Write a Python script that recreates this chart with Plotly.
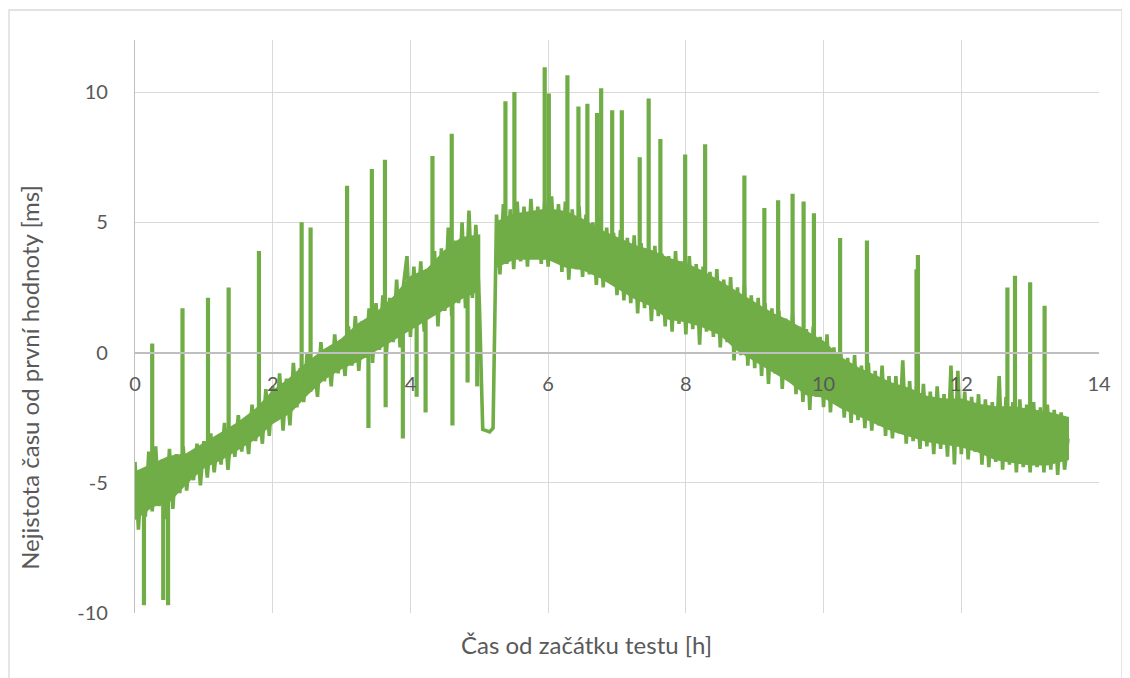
import plotly.graph_objects as go

# time since test start [h]
hours = [
    0.00, 0.05, 0.10, 0.15, 0.20, 0.25, 0.30, 0.35, 0.40, 0.45, 0.50, 0.55, 0.60, 0.65, 0.70, 0.75, 0.80, 0.85, 0.90, 0.95,
    1.00, 1.05, 1.10, 1.15, 1.20, 1.25, 1.30, 1.35, 1.40, 1.45, 1.50, 1.55, 1.60, 1.65, 1.70, 1.75, 1.80, 1.85, 1.90, 1.95,
    2.00, 2.05, 2.10, 2.15, 2.20, 2.25, 2.30, 2.35, 2.40, 2.45, 2.50, 2.55, 2.60, 2.65, 2.70, 2.75, 2.80, 2.85, 2.90, 2.95,
    3.00, 3.05, 3.10, 3.15, 3.20, 3.25, 3.30, 3.35, 3.40, 3.45, 3.50, 3.55, 3.60, 3.65, 3.70, 3.75, 3.80, 3.85, 3.90, 3.95,
    4.00, 4.05, 4.10, 4.15, 4.20, 4.25, 4.30, 4.35, 4.40, 4.45, 4.50, 4.55, 4.60, 4.65, 4.70, 4.75, 4.80, 4.85, 4.90, 4.95,
    5.00, 5.05, 5.10, 5.15, 5.20, 5.25, 5.30, 5.35, 5.40, 5.45, 5.50, 5.55, 5.60, 5.65, 5.70, 5.75, 5.80, 5.85, 5.90, 5.95,
    6.00, 6.05, 6.10, 6.15, 6.20, 6.25, 6.30, 6.35, 6.40, 6.45, 6.50, 6.55, 6.60, 6.65, 6.70, 6.75, 6.80, 6.85, 6.90, 6.95,
    7.00, 7.05, 7.10, 7.15, 7.20, 7.25, 7.30, 7.35, 7.40, 7.45, 7.50, 7.55, 7.60, 7.65, 7.70, 7.75, 7.80, 7.85, 7.90, 7.95,
    8.00, 8.05, 8.10, 8.15, 8.20, 8.25, 8.30, 8.35, 8.40, 8.45, 8.50, 8.55, 8.60, 8.65, 8.70, 8.75, 8.80, 8.85, 8.90, 8.95,
    9.00, 9.05, 9.10, 9.15, 9.20, 9.25, 9.30, 9.35, 9.40, 9.45, 9.50, 9.55, 9.60, 9.65, 9.70, 9.75, 9.80, 9.85, 9.90, 9.95,
    10.00, 10.05, 10.10, 10.15, 10.20, 10.25, 10.30, 10.35, 10.40, 10.45, 10.50, 10.55, 10.60, 10.65, 10.70, 10.75, 10.80, 10.85, 10.90, 10.95,
    11.00, 11.05, 11.10, 11.15, 11.20, 11.25, 11.30, 11.35, 11.40, 11.45, 11.50, 11.55, 11.60, 11.65, 11.70, 11.75, 11.80, 11.85, 11.90, 11.95,
    12.00, 12.05, 12.10, 12.15, 12.20, 12.25, 12.30, 12.35, 12.40, 12.45, 12.50, 12.55, 12.60, 12.65, 12.70, 12.75, 12.80, 12.85, 12.90, 12.95,
    13.00, 13.05, 13.10, 13.15, 13.20, 13.25, 13.30, 13.35, 13.40, 13.45, 13.50, 13.55,
]

# time uncertainty relative to the first value [ms] (noise trace)
offset_ms = [
    -4.2, -6.8, -4.5, -6.3, -3.8, -6.1, -3.6, -5.9, -4.1, -6.4, -3.7, -6.0, -3.9, -5.4, -3.6, -5.3, -4.0, -4.9, -3.5, -5.1,
    -3.4, -4.8, -3.1, -4.6, -3.3, -4.3, -2.7, -4.5, -2.9, -4.0, -2.4, -3.8, -2.6, -3.9, -2.0, -3.4, -2.2, -3.5, -1.4, -3.2,
    -1.3, -2.6, -0.8, -3.0, -1.0, -2.8, -0.4, -2.1, -0.6, -1.9, 0.0, -1.5, -0.3, -1.7, 0.4, -1.1, 0.1, -1.3, 0.7, -0.8,
    0.5, -0.9, 1.0, -0.5, 1.4, -0.7, 1.2, -0.2, 1.7, -0.4, 1.9, 0.1, 2.2, -0.1, 2.1, 0.4, 2.8, 0.2, 2.6, 3.7,
    0.6, 3.3, 1.2, 3.5, 0.8, 3.2, 1.5, 3.9, 1.0, 4.0, 1.6, 4.8, 1.4, 4.3, 1.9, 5.0, 1.7, 5.45, 2.1, 4.9,
    2.0, -2.95, -3.0, -3.05, -2.9, 5.3, 3.0, 5.7, 3.4, 5.5, 3.2, 5.8, 3.5, 5.6, 3.3, 5.9, 3.7, 5.6, 3.4, 5.8,
    3.3, 6.0, 3.5, 5.7, 3.1, 5.8, 2.8, 5.5, 3.2, 5.6, 2.9, 5.3, 3.0, 5.0, 2.6, 5.2, 2.5, 4.8, 2.7, 4.6,
    2.2, 4.7, 2.0, 4.4, 1.9, 4.5, 1.5, 4.2, 1.7, 4.0, 1.2, 4.1, 1.4, 3.8, 1.0, 3.7, 0.8, 3.9, 1.1, 3.5,
    0.7, 3.7, 0.9, 3.4, 0.3, 3.3, 0.8, 3.1, 0.6, 3.2, 0.2, 2.8, 0.4, 2.9, -0.3, 2.5, -0.1, 2.6, -0.5, 2.2,
    -0.6, 2.1, -0.9, 1.9, -1.2, 1.7, -0.8, 1.6, -1.4, 1.3, -1.1, 1.5, -1.6, 1.0, -1.9, 0.9, -2.2, 1.0, -1.7, 0.6,
    -2.1, 0.7, -2.3, 0.2, -2.0, 0.0, -2.5, -0.2, -2.7, -0.1, -2.6, -0.5, -2.9, -0.4, -3.0, -0.7, -2.8, -0.5, -3.2, -0.9,
    -3.3, -0.9, -3.1, -0.3, -3.5, -1.1, -3.4, -1.3, -3.7, -1.2, -3.6, -1.5, -3.9, -1.3, -3.7, -1.6, -4.0, -0.5, -4.3, -0.7,
    -3.9, -1.5, -4.1, -1.7, -3.8, -1.6, -4.3, -1.8, -4.4, -1.9, -4.2, -0.9, -4.5, -1.7, -4.3, -1.9, -4.6, -1.8, -4.4, -2.0,
    -4.6, -1.9, -4.4, -2.1, -4.6, -2.0, -4.5, -2.2, -4.7, -2.3, -4.5, -3.3,
]

# isolated spikes: time [h], band level the spike leaves from [ms], spike extreme [ms]
spike_hours = [
    0.13, 0.25, 0.41, 0.48, 0.69, 1.06, 1.36, 1.80, 2.42, 2.55, 3.08, 3.39, 3.44, 3.63, 3.64, 3.89,
    4.09, 4.22, 4.32, 4.60, 4.61, 4.83, 4.97, 5.38, 5.51, 5.95, 6.01, 6.28, 6.44, 6.57, 6.71, 6.77,
    6.93, 7.07, 7.33, 7.46, 7.63, 7.99, 8.28, 8.85, 9.14, 9.34, 9.55, 9.71, 9.86, 10.24, 10.63, 11.35,
    11.37, 12.67, 12.78, 13.00, 13.21,
]
spike_base = [
    -5.3, -5.1, -4.9, -4.9, -4.5, -3.9, -3.3, -2.7, -1.2, -0.9, -0.1, 0.4, 0.7, 1.0, 0.9, 1.8,
    2.0, 2.2, 2.3, 2.8, 2.8, 3.2, 3.4, 4.3, 4.4, 4.5, 4.5, 4.3, 4.2, 4.0, 3.8, 3.8,
    3.5, 3.3, 3.0, 2.9, 2.6, 2.3, 2.0, 1.1, 0.6, 0.3, 0.0, -0.4, -0.5, -1.1, -1.6, -2.4,
    -2.4, -3.1, -3.1, -3.2, -3.3,
]
spike_peak = [
    -9.7, 0.35, -9.5, -9.7, 1.7, 2.1, 2.5, 3.9, 5.0, 4.8, 6.4, -2.9, 7.05, 7.4, -2.1, -3.3,
    -1.7, -2.3, 7.55, 8.4, -2.8, -1.15, -1.3, 9.65, 10.0, 10.95, 9.95, 10.65, 9.45, 9.55, 9.2, 10.15,
    9.3, 9.3, 7.5, 9.75, 8.2, 7.6, 8.0, 6.8, 5.55, 5.85, 6.1, 5.8, 5.35, 4.4, 4.3, 3.2,
    3.75, 2.5, 2.95, 2.7, 1.8,
]

# dense core of the noise band, two parts split at the 5.0-5.25 h gap
band_hours = [
    0.00, 0.25, 0.50, 0.75, 1.00, 1.25, 1.50, 1.75, 2.00, 2.25, 2.50, 2.75, 3.00, 3.25, 3.50, 3.75, 4.00, 4.25, 4.50, 4.75, 5.00,
    None,
    5.25, 5.50, 5.75, 6.00, 6.25, 6.50, 6.75, 7.00, 7.25, 7.50, 7.75, 8.00, 8.25, 8.50, 8.75, 9.00, 9.25, 9.50, 9.75,
    10.00, 10.25, 10.50, 10.75, 11.00, 11.25, 11.50, 11.75, 12.00, 12.25, 12.50, 12.75, 13.00, 13.25, 13.55,
]
band_top = [
    -4.6, -4.3, -4.0, -3.9, -3.5, -3.1, -2.7, -2.2, -1.5, -1.0, -0.4, 0.1, 0.5, 1.1, 1.5, 2.1, 2.9, 3.2, 3.9, 4.4, 4.5,
    None,
    5.0, 5.3, 5.4, 5.5, 5.4, 5.1, 4.7, 4.4, 4.1, 3.9, 3.6, 3.4, 3.1, 2.7, 2.3, 1.9, 1.5, 1.2, 0.8,
    0.4, -0.2, -0.6, -0.9, -1.2, -1.4, -1.7, -1.8, -1.8, -2.0, -2.1, -2.1, -2.2, -2.3, -2.5,
]
band_bottom = [
    -6.4, -5.9, -5.7, -5.0, -4.4, -4.1, -3.7, -3.3, -2.7, -2.3, -1.6, -1.0, -0.6, -0.3, 0.1, 0.5, 0.9, 1.3, 1.7, 2.1, 2.4,
    None,
    3.3, 3.6, 3.6, 3.6, 3.3, 3.2, 2.9, 2.5, 2.1, 1.8, 1.3, 1.2, 1.0, 0.7, 0.1, -0.3, -0.7, -1.1, -1.6,
    -1.7, -2.1, -2.4, -2.7, -3.0, -3.2, -3.4, -3.5, -3.6, -3.8, -4.1, -4.2, -4.3, -4.3, -4.1,
]

x_ticks = [0, 2, 4, 6, 8, 10, 12, 14]
y_ticks = [-10, -5, 0, 5, 10]

x_title = "Čas od začátku testu [h]"
y_title = "Nejistota času od první hodnoty [ms]"

FONT = "Lato, Open Sans, sans-serif"
TXT = "#595959"
GRID = "#d9d9d9"
AXIS = "#bfbfbf"
GREEN = "#70ad47"
LW = 3.6

fig = go.Figure()

# band core polygons
seg_x, seg_t, seg_b = [], [], []
poly_x, poly_y = [], []
for h, t, b in list(zip(band_hours, band_top, band_bottom)) + [(None, None, None)]:
    if h is None:
        if seg_x:
            poly_x += seg_x + seg_x[::-1] + [None]
            poly_y += seg_t + seg_b[::-1] + [None]
        seg_x, seg_t, seg_b = [], [], []
    else:
        seg_x.append(h)
        seg_t.append(t)
        seg_b.append(b)

fig.add_trace(go.Scatter(
    x=poly_x, y=poly_y, mode="lines", fill="toself", fillcolor=GREEN,
    line=dict(color=GREEN, width=2), connectgaps=False,
    hoverinfo="skip", showlegend=False,
))
fig.add_trace(go.Scatter(
    x=hours, y=offset_ms, mode="lines",
    line=dict(color=GREEN, width=LW),
    hoverinfo="skip", showlegend=False,
))
sx, sy = [], []
for h, b, p in zip(spike_hours, spike_base, spike_peak):
    sx += [h, h, None]
    sy += [b, p, None]
fig.add_trace(go.Scatter(
    x=sx, y=sy, mode="lines", connectgaps=False,
    line=dict(color=GREEN, width=4.2),
    hoverinfo="skip", showlegend=False,
))
# invisible helper trace for the x-axis drawn at y = 0
fig.add_trace(go.Scatter(
    x=[x_ticks[0], x_ticks[-1]], y=[0, 0], xaxis="x2", mode="lines",
    line=dict(color="rgba(0,0,0,0)", width=0), hoverinfo="skip", showlegend=False,
))

fig.update_layout(
    width=1122, height=670,
    margin=dict(l=127, r=31, t=32, b=65, autoexpand=False),
    paper_bgcolor="white", plot_bgcolor="white",
    font=dict(family=FONT, color=TXT, size=20),
    xaxis=dict(
        range=[x_ticks[0], x_ticks[-1]], tickvals=x_ticks, showticklabels=False,
        showgrid=True, gridcolor=GRID, gridwidth=1.3, zeroline=False, showline=False,
        fixedrange=True, automargin=False,
    ),
    xaxis2=dict(
        overlaying="x", anchor="free", position=10 / 22, side="bottom",
        range=[x_ticks[0], x_ticks[-1]], tickvals=x_ticks,
        ticktext=[str(v) for v in x_ticks],
        showgrid=False, zeroline=False, showline=True, linecolor=AXIS, linewidth=1.5,
        ticks="", ticklabelstandoff=14, tickfont=dict(size=20, color=TXT), automargin=False,
    ),
    yaxis=dict(
        range=[-10, 12], tickvals=y_ticks, ticktext=[str(v) for v in y_ticks],
        showgrid=True, gridcolor=GRID, gridwidth=1.3, zeroline=False,
        showline=True, linecolor=AXIS, linewidth=1.3,
        ticks="", ticklabelstandoff=22, tickfont=dict(size=20, color=TXT),
        fixedrange=True, automargin=False,
    ),
    annotations=[
        dict(text=x_title, xref="paper", yref="paper", x=0.468, y=-0.0558,
             xanchor="center", yanchor="middle", showarrow=False,
             font=dict(size=24, color=TXT)),
        dict(text=y_title, xref="paper", yref="paper", x=-0.109, y=0.412,
             xanchor="center", yanchor="middle", showarrow=False, textangle=-90,
             font=dict(size=24, color=TXT)),
    ],
    shapes=[dict(
        type="rect", xref="paper", yref="paper",
        x0=(9 - 135) / 964, x1=(1122 - 135) / 964,
        y0=(613 - 690) / 573, y1=(613 - 10) / 573,
        line=dict(color=GRID, width=1.3), fillcolor="rgba(0,0,0,0)", layer="below",
    )],
)

fig.write_html("out.html")
